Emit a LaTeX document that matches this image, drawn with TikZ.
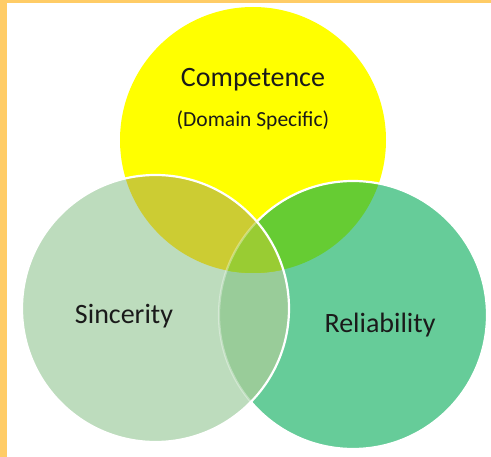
\documentclass[tikz,border=0pt]{standalone}
\usepackage{fontspec}
\setmainfont{Carlito}
\definecolor{framecol}{HTML}{FFCC66}
\definecolor{cyel}{HTML}{FFFF00}
\definecolor{cleft}{HTML}{BDDCBD}
\definecolor{cright}{HTML}{66CC99}
\definecolor{cyl}{HTML}{CCCC33}
\definecolor{cyr}{HTML}{66CC33}
\definecolor{clr}{HTML}{99CC99}
\definecolor{call}{HTML}{99CC33}
\definecolor{inkcol}{HTML}{1A1A1A}
\tikzset{
  lbl/.style={inner sep=0pt, text=inkcol, font=\fontsize{28}{32}\selectfont},
  sublbl/.style={inner sep=0pt, text=inkcol, font=\fontsize{21.5}{25}\selectfont},
  rim/.style={draw=white, line width=2.2pt}
}
\def\Ycirc{(253,140) circle (133)}
\def\Lcirc{(155.5,308.5) circle (133.5)}
\def\Rcirc{(353,315) circle (134)}
\begin{document}
\begin{tikzpicture}[x=1pt,y=-1pt]
\useasboundingbox (0,0) rectangle (491,457);
\fill[white] (0,0) rectangle (491,457);
% frame strips on the left and top
\fill[framecol] (0,0) rectangle (7,457);
\fill[framecol] (0,0) rectangle (491,3.5);
% single-set areas
\fill[cyel] \Ycirc;
\fill[cright] \Rcirc;
\fill[cleft] \Lcirc;
% sincerity & reliability
\begin{scope}
  \clip \Lcirc;
  \fill[clr] \Rcirc;
\end{scope}
% overlaps with competence
\begin{scope}
  \clip \Ycirc;
  \fill[cyr] \Rcirc;
  \fill[cyl] \Lcirc;
  \clip \Lcirc;
  \fill[call] \Rcirc;
\end{scope}
% outline of the reliability circle, bright outside sincerity, faint inside it
\begin{scope}[even odd rule]
  \clip (0,0) rectangle (491,457) \Lcirc;
  \draw[rim] \Rcirc;
\end{scope}
\begin{scope}
  \clip \Lcirc;
  \draw[rim, draw opacity=0.35] \Rcirc;
\end{scope}
% outline of the sincerity circle
\draw[rim] \Lcirc;
% labels
\node[lbl] (comp) at (253,80) {Competence};
\node[sublbl] (dom) at (253,120) {(Domain Specific)};
\node[lbl] (sinc) at (124,316) {Sincerity};
\node[lbl] (rel) at (380,325) {Reliability};
\end{tikzpicture}
\end{document}
